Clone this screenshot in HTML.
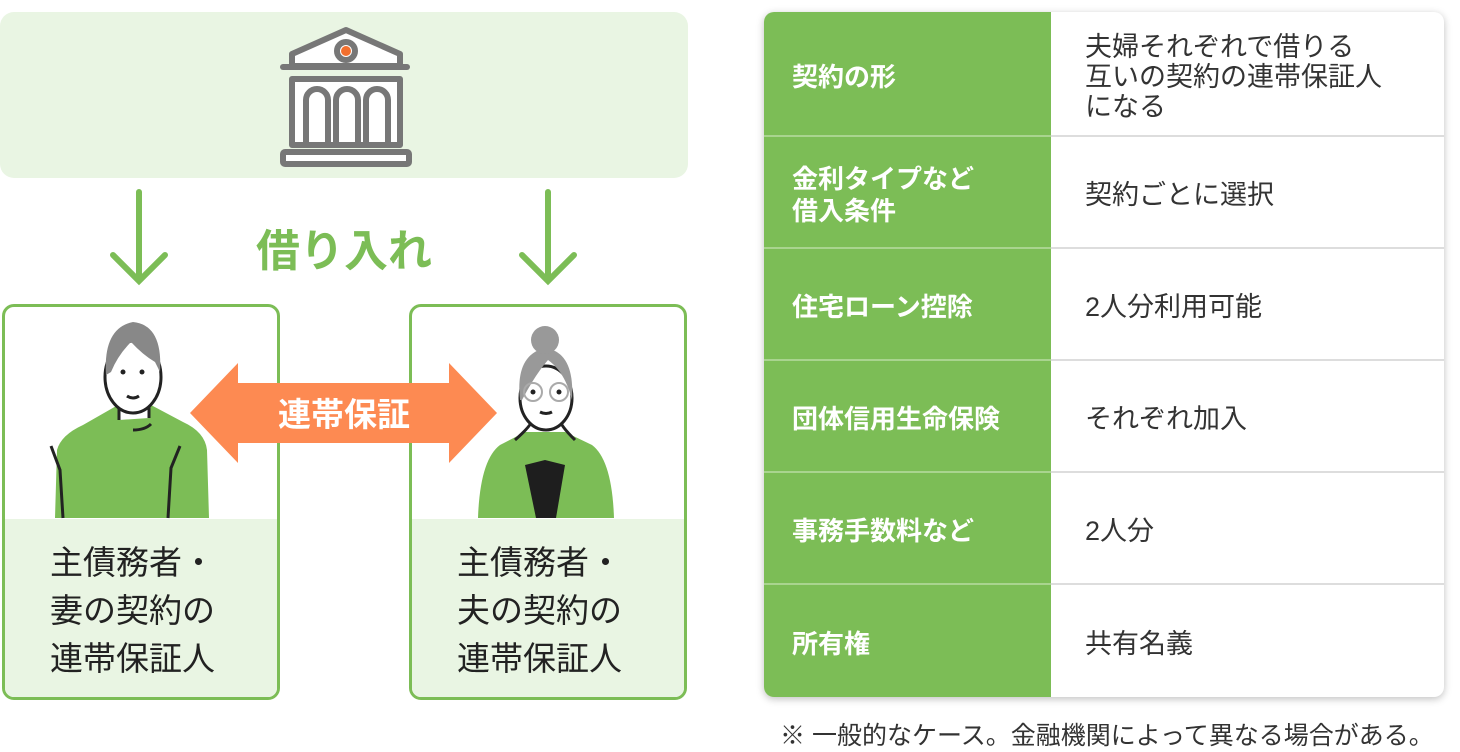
<!DOCTYPE html>
<html><head><meta charset="utf-8"><style>
body{margin:0;width:1460px;height:747px;background:#fff;font-family:"Liberation Sans","Noto Sans CJK JP",sans-serif;position:relative;overflow:hidden}
.a{position:absolute}
.top{left:0;top:12px;width:688px;height:166px;background:#e9f5e3;border-radius:14px}
.pbox{top:304px;width:272px;height:390px;border:3px solid #7cbd56;border-radius:12px;overflow:hidden;background:#fff}
.pbox .lo{position:absolute;left:0;right:0;bottom:0;height:178px;background:#e9f5e3;font-size:33px;line-height:48px;color:#222;padding:20px 0 0 45px;box-sizing:border-box}
.tbl{left:764px;top:12px;width:680px;height:685px;border-radius:10px;overflow:hidden;box-shadow:0 2px 8px rgba(0,0,0,.25);background:#fff}
.row{position:absolute;left:0;width:680px;display:flex}
.row .k{width:287px;background:#7cbd56;color:#fff;font-weight:bold;font-size:26px;display:flex;align-items:center;padding-left:28px;box-sizing:border-box;line-height:32px;border-bottom:2px solid #a9d48f;padding-top:6px}
.row .v{flex:1;color:#333;font-size:27px;display:flex;align-items:center;padding-left:34px;line-height:30px;border-bottom:2px solid #ddd;padding-top:6px}
</style></head><body>
<div class="a top"></div>
<svg class="a" style="left:0;top:0" width="700" height="520">
<g fill="none" stroke="#777" stroke-width="6" stroke-linejoin="round" stroke-linecap="round">
<path d="M292 66 V54 L346 30 L400 54 V66 Z" fill="#fff"/>
<line x1="283" y1="67" x2="407" y2="67"/>
<path d="M292 79 H400 V145 H292 Z" fill="#fff"/>
<path d="M306 145 V100 a11 11 0 0 1 22 0 V145 H336 V100 a11 11 0 0 1 22 0 V145 H366 V100 a11 11 0 0 1 22 0 V145"/>
<rect x="283" y="152" width="126" height="12" rx="2" fill="#fff"/>
<circle cx="346" cy="51" r="9" fill="#fff"/>
</g>
<circle cx="346" cy="51" r="5" fill="#f26f2e"/>
<g stroke="#7cbd56" stroke-width="6" fill="none" stroke-linecap="round">
<path d="M139 192 V280 M113 255 L139 281 L165 255"/>
<path d="M548 192 V280 M522 255 L548 281 L574 255"/>
</g>
<text x="344" y="266" text-anchor="middle" font-size="44" font-weight="bold" fill="#7cbd56" font-family="Liberation Sans,Noto Sans CJK JP,sans-serif">借り入れ</text>
</svg>
<div class="a pbox" style="left:2px"><div class="lo">主債務者・<br>妻の契約の<br>連帯保証人</div></div>
<div class="a pbox" style="left:409px"><div class="lo">主債務者・<br>夫の契約の<br>連帯保証人</div></div>
<svg class="a" style="left:0;top:300px" width="700" height="220">
<g transform="translate(33,0)">
<path d="M22 218 L24 150 Q28 135 50 125 L85 105 H118 L150 122 Q172 132 174 150 L176 218 Z" fill="#7cbd56"/>
<path d="M86 120 V100 Q100 112 116 100 V118" fill="#fff" stroke="#222" stroke-width="3"/>
<path d="M100 130 Q112 130 118 124" stroke="#222" stroke-width="3" fill="none"/>
<path d="M18 146 L27 170 L30 218 M147 146 L138 168 L135 218" stroke="#222" stroke-width="3" fill="none"/>
<ellipse cx="100" cy="77" rx="28" ry="36" fill="#fff" stroke="#222" stroke-width="3"/>
<path d="M73 75 Q70 28 100 22 Q130 25 127 72 L122 62 Q110 55 98 42 Q85 55 78 72 Z" fill="#888"/>
<circle cx="90" cy="72" r="2.5" fill="#222"/><circle cx="109" cy="72" r="2.5" fill="#222"/>
<path d="M94 96 Q100 100 106 96" stroke="#222" stroke-width="3" fill="none"/>
</g>
<path d="M478 218 Q480 160 500 145 L525 132 L565 132 L592 145 Q612 160 614 218 Z" fill="#7cbd56"/>
<path d="M525 165 L545 160 L565 165 L556 218 H536 Z" fill="#1e1e1e"/>
<path d="M515 140 Q532 125 532 120 M575 140 Q560 125 560 120" stroke="#222" stroke-width="3" fill="none"/>
<ellipse cx="546" cy="98" rx="26" ry="32" fill="#fff" stroke="#222" stroke-width="3"/>
<path d="M520 100 Q515 55 545 48 Q575 52 572 100 Q565 72 548 60 Q535 75 522 100Z" fill="#999"/>
<circle cx="545" cy="40" r="14" fill="#999"/>
<circle cx="533" cy="92" r="9" fill="none" stroke="#aaa" stroke-width="2"/><circle cx="559" cy="92" r="9" fill="none" stroke="#aaa" stroke-width="2"/>
<circle cx="533" cy="92" r="2.5" fill="#222"/><circle cx="559" cy="92" r="2.5" fill="#222"/>
<path d="M540 112 Q546 115 552 112" stroke="#222" stroke-width="3" fill="none"/>
<path d="M190 113 L238 63 V83 H449 V63 L497 113 L449 163 V143 H238 V163 Z" fill="#fd8a52"/>
<text x="344" y="126" text-anchor="middle" font-size="33" font-weight="bold" fill="#fff" font-family="Liberation Sans,Noto Sans CJK JP,sans-serif">連帯保証</text>
</svg>
<div class="a tbl">
<div class="row" style="top:0;height:125px"><div class="k">契約の形</div><div class="v">夫婦それぞれで借りる<br>互いの契約の連帯保証人<br>になる</div></div>
<div class="row" style="top:125px;height:112px"><div class="k">金利タイプなど<br>借入条件</div><div class="v">契約ごとに選択</div></div>
<div class="row" style="top:237px;height:112px"><div class="k">住宅ローン控除</div><div class="v">2人分利用可能</div></div>
<div class="row" style="top:349px;height:112px"><div class="k">団体信用生命保険</div><div class="v">それぞれ加入</div></div>
<div class="row" style="top:461px;height:112px"><div class="k">事務手数料など</div><div class="v">2人分</div></div>
<div class="row" style="top:573px;height:112px"><div class="k" style="border:0">所有権</div><div class="v" style="border:0">共有名義</div></div>
</div>
<div class="a" style="left:780px;top:716px;font-size:25px;color:#333;white-space:nowrap">※ 一般的なケース。金融機関によって異なる場合がある。</div>
</body></html>
